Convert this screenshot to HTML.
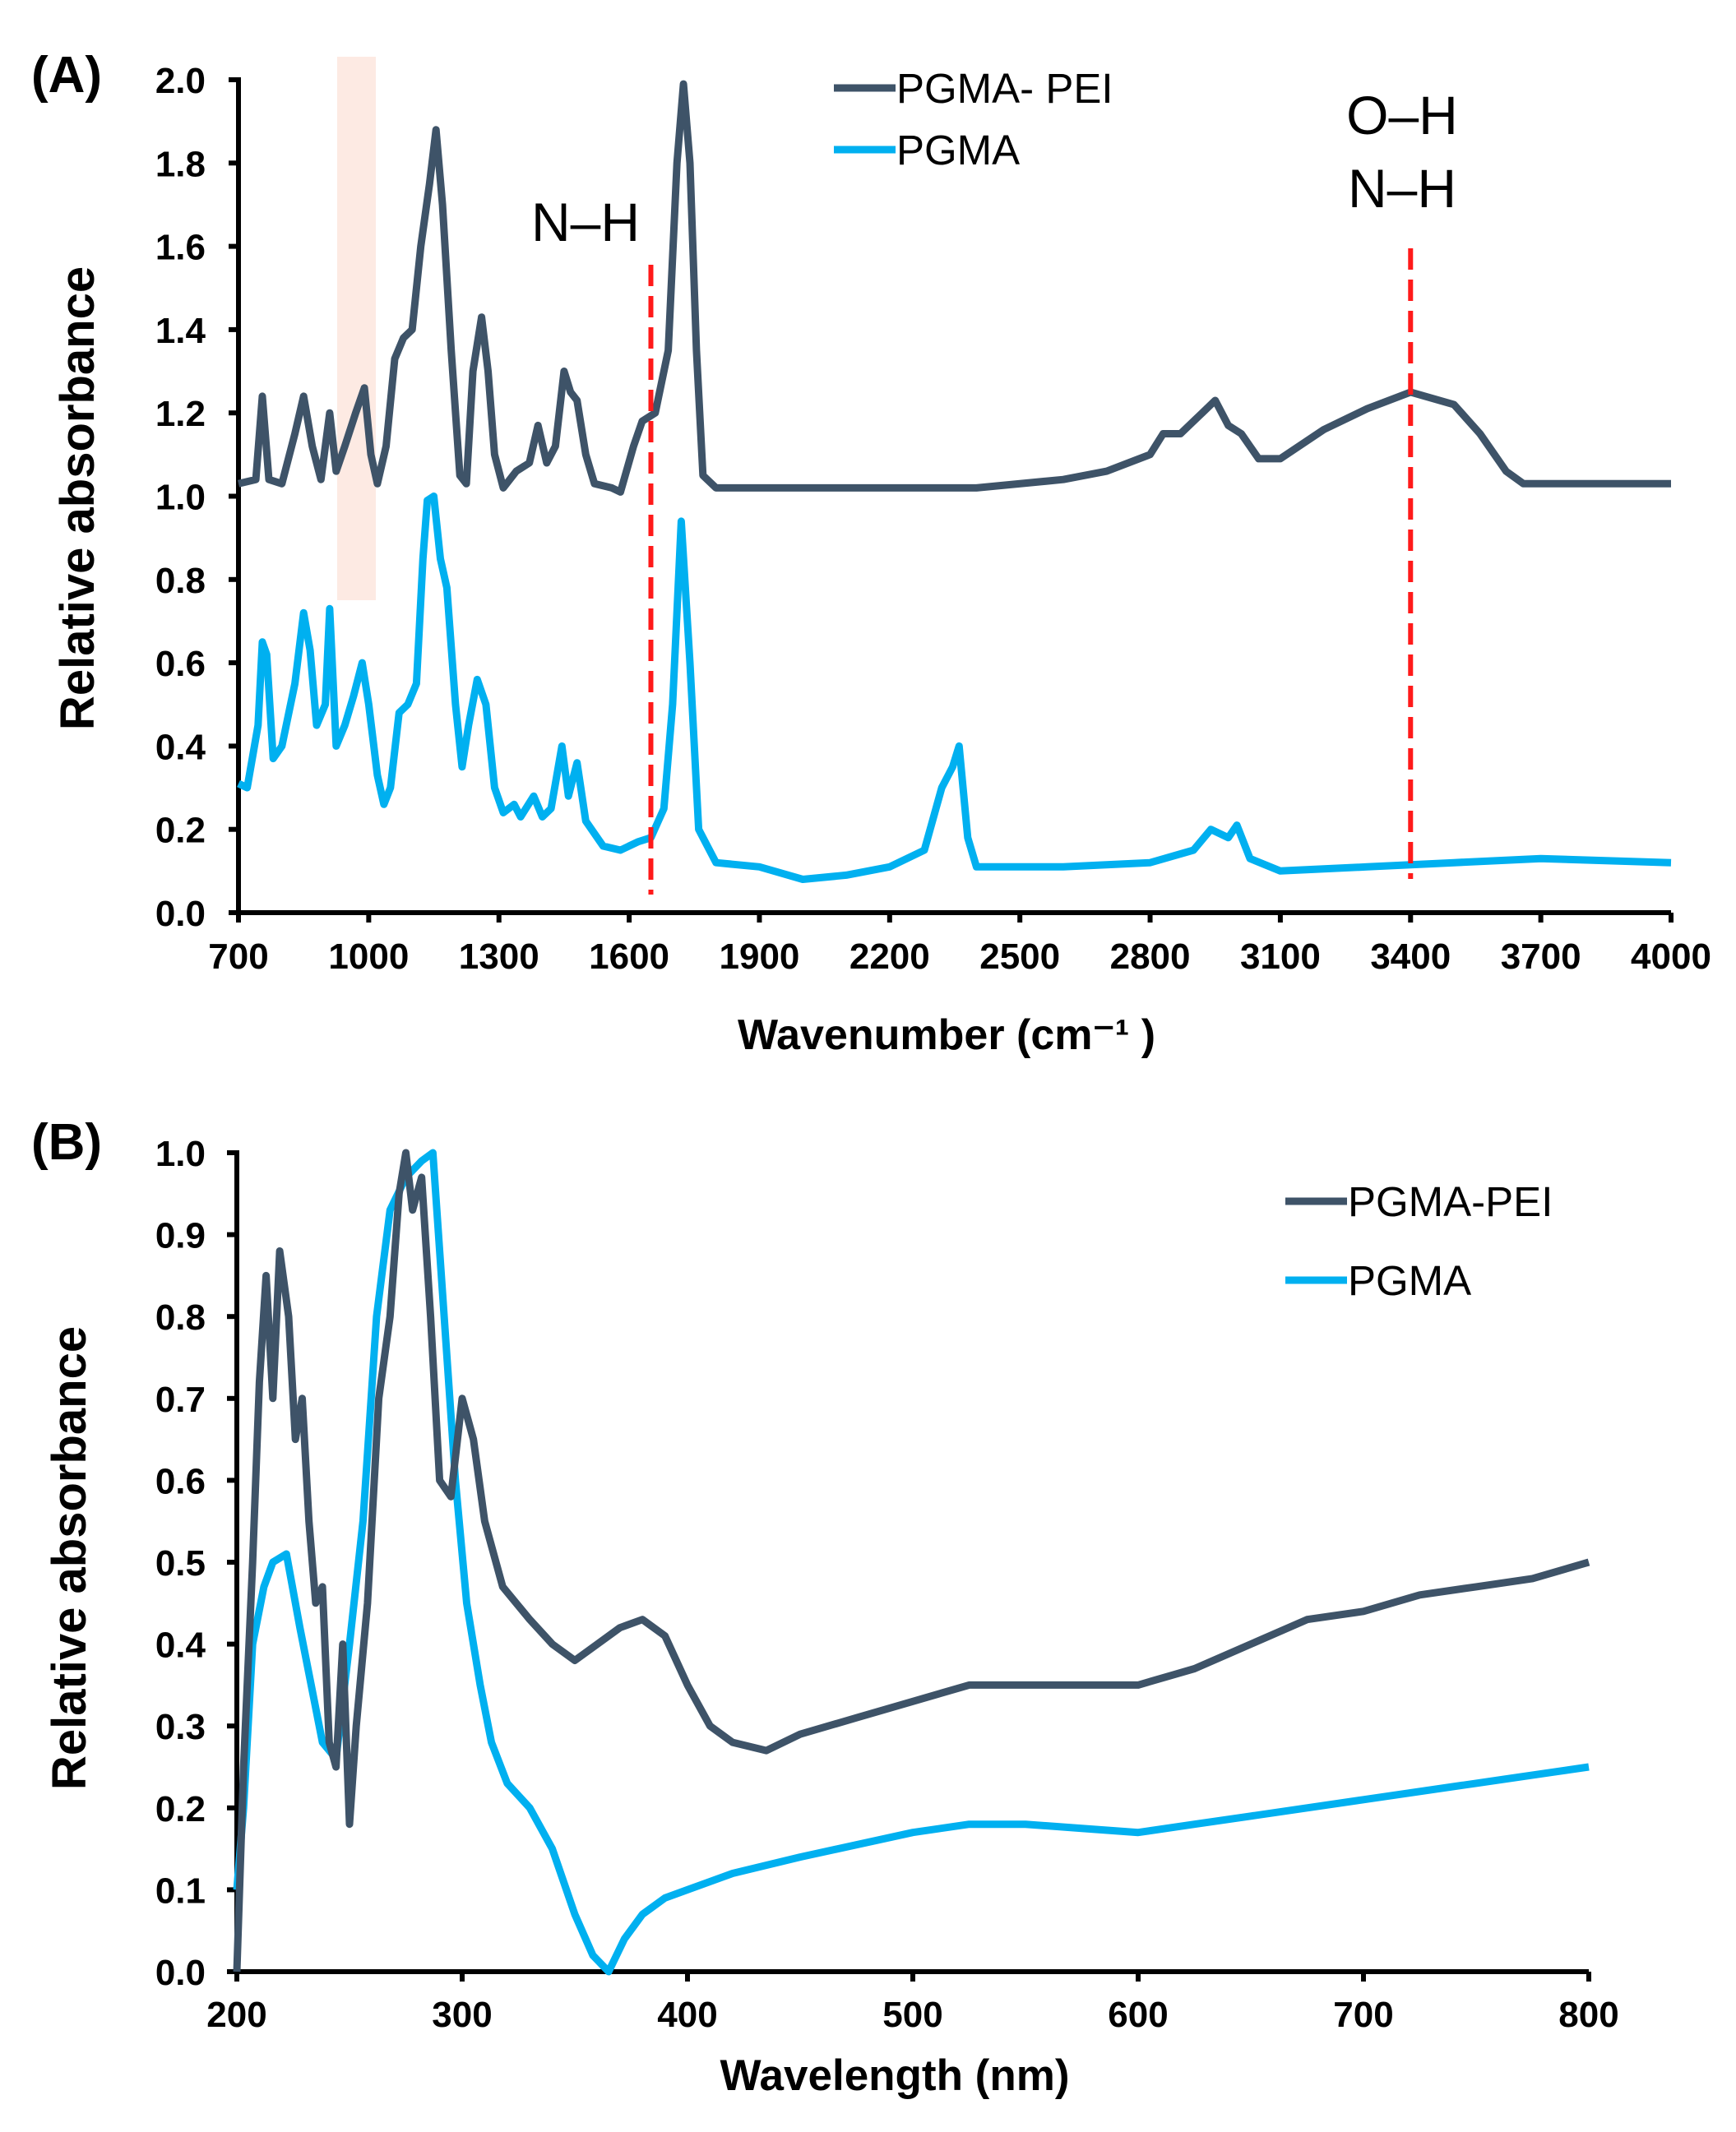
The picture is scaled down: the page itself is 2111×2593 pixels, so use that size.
<!DOCTYPE html>
<html><head><meta charset="utf-8"><style>
html,body{margin:0;padding:0;background:#fff;}
svg{display:block;font-family:"Liberation Sans",Arial,sans-serif;}
</style></head><body>
<svg id="fig" width="2111" height="2593" viewBox="0 0 2111 2593" xmlns="http://www.w3.org/2000/svg">
<g id="A"></g>
<g id="B"></g>
</svg>
<script>
// Panel A data (wavenumber, relative absorbance)
const aPeiX=[700,740,755,770,800,830,850,870,890,910,925,945,970,990,1005,1020,1040,1060,1080,1100,1120,1140,1155,1170,1190,1210,1225,1240,1260,1275,1290,1310,1340,1370,1390,1410,1430,1450,1465,1480,1500,1520,1560,1580,1610,1630,1660,1690,1710,1725,1740,1755,1770,1800,2000,2200,2400,2600,2700,2800,2830,2870,2920,2950,2980,3010,3050,3100,3200,3300,3400,3500,3560,3620,3660,3750,4000];
const aPeiY=[1.03,1.04,1.24,1.04,1.03,1.15,1.24,1.12,1.04,1.20,1.06,1.12,1.20,1.26,1.10,1.03,1.12,1.33,1.38,1.40,1.60,1.75,1.88,1.70,1.35,1.05,1.03,1.30,1.43,1.30,1.10,1.02,1.06,1.08,1.17,1.08,1.12,1.30,1.25,1.23,1.10,1.03,1.02,1.01,1.12,1.18,1.20,1.35,1.80,1.99,1.80,1.35,1.05,1.02,1.02,1.02,1.02,1.04,1.06,1.10,1.15,1.15,1.20,1.23,1.17,1.15,1.09,1.09,1.16,1.21,1.25,1.22,1.15,1.06,1.03,1.03,1.03];
const aPgX=[700,720,745,755,765,780,800,830,850,865,880,900,910,925,945,965,985,1000,1020,1035,1050,1070,1090,1110,1125,1135,1150,1165,1180,1200,1215,1230,1250,1270,1290,1310,1335,1350,1380,1400,1420,1445,1460,1480,1500,1540,1580,1620,1650,1680,1700,1720,1740,1760,1800,1900,2000,2100,2200,2280,2320,2345,2360,2380,2400,2600,2800,2900,2940,2980,3000,3030,3100,3300,3500,3700,4000];
const aPgY=[0.31,0.30,0.45,0.65,0.62,0.37,0.40,0.55,0.72,0.63,0.45,0.50,0.73,0.40,0.45,0.52,0.60,0.50,0.33,0.26,0.30,0.48,0.50,0.55,0.85,0.99,1.00,0.85,0.78,0.50,0.35,0.45,0.56,0.50,0.30,0.24,0.26,0.23,0.28,0.23,0.25,0.40,0.28,0.36,0.22,0.16,0.15,0.17,0.18,0.25,0.50,0.94,0.60,0.20,0.12,0.11,0.08,0.09,0.11,0.15,0.30,0.35,0.40,0.18,0.11,0.11,0.12,0.15,0.20,0.18,0.21,0.13,0.10,0.11,0.12,0.13,0.12];
const aXTicks=[700,1000,1300,1600,1900,2200,2500,2800,3100,3400,3700,4000];
const aYTicks=[0,0.2,0.4,0.6,0.8,1.0,1.2,1.4,1.6,1.8,2.0];
const aMarkers=[1650,3400];
// Panel B data (wavelength nm, relative absorbance)
const bPeiX=[200,203,207,210,213,216,219,223,226,229,232,235,238,241,244,247,250,253,258,263,268,272,275,278,282,286,290,295,300,305,310,318,330,340,350,360,370,380,390,400,410,420,435,450,475,500,525,550,575,600,625,650,675,700,725,750,775,800];
const bPeiY=[0.0,0.25,0.5,0.72,0.85,0.70,0.88,0.80,0.65,0.70,0.55,0.45,0.47,0.28,0.25,0.40,0.18,0.30,0.45,0.70,0.80,0.95,1.0,0.93,0.97,0.80,0.60,0.58,0.70,0.65,0.55,0.47,0.43,0.40,0.38,0.40,0.42,0.43,0.41,0.35,0.30,0.28,0.27,0.29,0.31,0.33,0.35,0.35,0.35,0.35,0.37,0.40,0.43,0.44,0.46,0.47,0.48,0.50];
const bPgX=[200,203,207,212,216,222,228,233,238,244,250,256,262,268,275,282,287,292,297,302,308,313,320,330,340,350,358,365,372,380,390,400,420,450,500,525,550,575,600,625,650,700,750,800];
const bPgY=[0.10,0.20,0.40,0.47,0.50,0.51,0.42,0.35,0.28,0.26,0.40,0.55,0.80,0.93,0.97,0.99,1.0,0.80,0.60,0.45,0.35,0.28,0.23,0.20,0.15,0.07,0.02,0.0,0.04,0.07,0.09,0.10,0.12,0.14,0.17,0.18,0.18,0.175,0.17,0.18,0.19,0.21,0.23,0.25];
const bXTicks=[200,300,400,500,600,700,800];
const bYTicks=[0,0.1,0.2,0.3,0.4,0.5,0.6,0.7,0.8,0.9,1.0];

const NS='http://www.w3.org/2000/svg';
const DARK='#3e5368', CYAN='#00b0f0';
function mk(parent,tag,attrs,txt){const e=document.createElementNS(NS,tag);for(const k in attrs)e.setAttribute(k,attrs[k]);if(txt!==undefined)e.textContent=txt;parent.appendChild(e);return e;}
function scale(d0,d1,r0,r1){return v=>r0+(v-d0)/(d1-d0)*(r1-r0);}
function pathD(xs,ys,sx,sy){return xs.map((x,i)=>(i?'L':'M')+sx(x).toFixed(1)+' '+sy(ys[i]).toFixed(1)).join(' ');}

function axes(g,sx,sy,xt,yt,xDec,yDec,x0,x1,y0,y1,lblY){
  const ax=mk(g,'path',{d:`M${sx(x0)} ${sy(y1)-3} L${sx(x0)} ${sy(y0)} L${sx(x1)} ${sy(y0)}`,fill:'none',stroke:'#000','stroke-width':6});
  
  
  xt.forEach(v=>{
    const t=mk(g,'line',{x1:sx(v),x2:sx(v),y1:sy(y0),y2:sy(y0)+12,stroke:'#000','stroke-width':6});
    
    
    const l=mk(g,'text',{x:sx(v),y:lblY,'text-anchor':'middle','font-size':44,'font-weight':'bold'},v.toFixed(xDec));
    
    
  });
  yt.forEach(v=>{
    const t=mk(g,'line',{x1:sx(x0)-12,x2:sx(x0),y1:sy(v),y2:sy(v),stroke:'#000','stroke-width':6});
    
    
    const l=mk(g,'text',{x:250,y:sy(v)+16,'text-anchor':'end','font-size':44,'font-weight':'bold'},v.toFixed(yDec));
    
    
  });
}
function series(g,xs,ys,sx,sy,col,name){
  const p=mk(g,'path',{d:pathD(xs,ys,sx,sy),fill:'none',stroke:col,'stroke-width':9,'stroke-linejoin':'round'});
  
  
}
function legend(g,x,y,col,label,name){
  const l=mk(g,'line',{x1:x,x2:x+75,y1:y,y2:y,stroke:col,'stroke-width':9});
  
  
  const t=mk(g,'text',{x:x+76,y:y+18,'font-size':51},label);
  
  
}

// Panel A
(function(){
  const g=document.getElementById('A');
  const sx=scale(700,4000,290,2032), sy=scale(0,2,1110,97);
  const band=mk(g,'rect',{x:410,y:69,width:47,height:661,fill:'#fdeae3'});
  
  
  axes(g,sx,sy,aXTicks,aYTicks,0,1,700,4000,0,2,1178);
  series(g,aPgX,aPgY,sx,sy,CYAN,'pgma-ftir-line');
  series(g,aPeiX,aPeiY,sx,sy,DARK,'pgma-pei-ftir-line');
  const tops=[322,302];
  aMarkers.forEach((m,i)=>{
    const d=mk(g,'line',{x1:sx(m),x2:sx(m),y1:tops[i],y2:i?1069:1088,stroke:'#ff1a1a','stroke-width':6,'stroke-dasharray':'26 12'});
    
    
  });
  const n1=mk(g,'text',{x:712,y:293,'text-anchor':'middle','font-size':66},'N–H');
  
  
  const o=mk(g,'text',{x:1705,y:163,'text-anchor':'middle','font-size':66},'O–H');
  
  
  const n2=mk(g,'text',{x:1705,y:252,'text-anchor':'middle','font-size':66},'N–H');
  
  
  legend(g,1014,107,DARK,'PGMA- PEI','legend-pgma-pei');
  legend(g,1014,182,CYAN,'PGMA','legend-pgma');
  const pl=mk(g,'text',{x:38,y:112,'font-size':62,'font-weight':'bold'},'(A)');
  
  
  const yt=mk(g,'text',{x:0,y:0,'text-anchor':'middle','font-size':58,'font-weight':'bold',transform:'translate(114,606) rotate(-90)'},'Relative absorbance');
  
  
  const xt=mk(g,'text',{x:1151,y:1276,'text-anchor':'middle','font-size':52,'font-weight':'bold'},'Wavenumber (cm⁻¹ )');
  
  
})();

// Panel B
(function(){
  const g=document.getElementById('B');
  const sx=scale(200,800,288,1932), sy=scale(0,1,2398,1402);
  axes(g,sx,sy,bXTicks,bYTicks,0,1,200,800,0,1,2465);
  series(g,bPgX,bPgY,sx,sy,CYAN,'pgma-uv-line');
  series(g,bPeiX,bPeiY,sx,sy,DARK,'pgma-pei-uv-line');
  legend(g,1563,1461,DARK,'PGMA-PEI','legend-pgma-pei-b');
  legend(g,1563,1557,CYAN,'PGMA','legend-pgma-b');
  const pl=mk(g,'text',{x:38,y:1410,'font-size':62,'font-weight':'bold'},'(B)');
  
  
  const yt=mk(g,'text',{x:0,y:0,'text-anchor':'middle','font-size':58,'font-weight':'bold',transform:'translate(104,1895) rotate(-90)'},'Relative absorbance');
  
  
  const xt=mk(g,'text',{x:1088,y:2542,'text-anchor':'middle','font-size':53,'font-weight':'bold'},'Wavelength (nm)');
  
  
})();
</script>
</body></html>
